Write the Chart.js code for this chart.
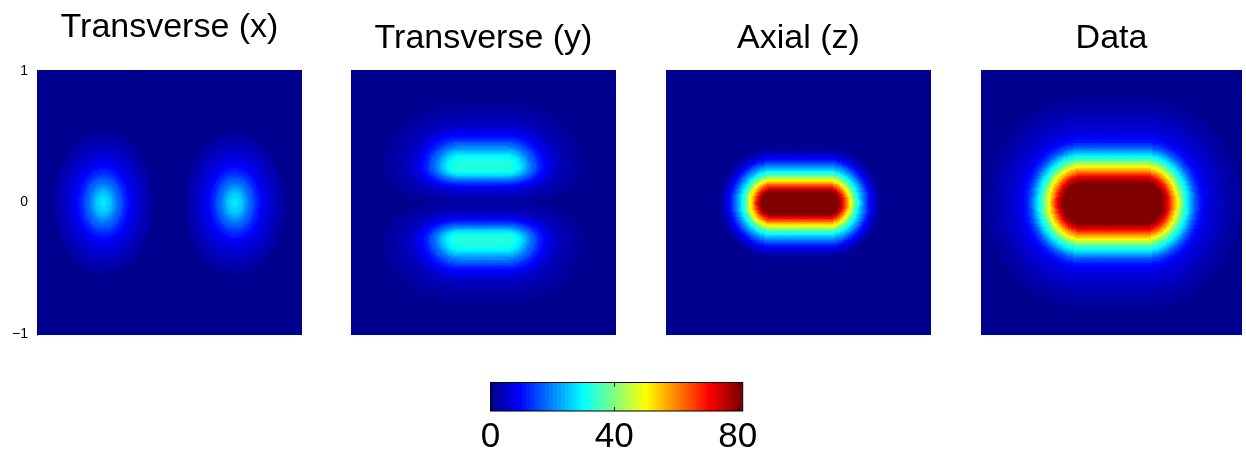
<!DOCTYPE html>
<html>
<head>
<meta charset="utf-8">
<title>Field components</title>
<script src="https://cdn.jsdelivr.net/npm/chart.js@4.4.1/dist/chart.umd.min.js"></script>
<style>
  html, body { margin: 0; padding: 0; background: #fff; }
  body { width: 1246px; height: 453px; position: relative; overflow: hidden; }
  canvas { position: absolute; top: 0; }
</style>
</head>
<body>
<canvas id="p0" width="312" height="345" style="left:0px"></canvas>
<canvas id="p1" width="285" height="345" style="left:341px"></canvas>
<canvas id="p2" width="285" height="345" style="left:656px"></canvas>
<canvas id="p3" width="275" height="345" style="left:971px"></canvas>
<canvas id="cbar" width="360" height="93" style="left:440px; top:360px"></canvas>
<script>
Chart.defaults.font.family = "'Liberation Sans', Arial, sans-serif";
Chart.defaults.color = '#000';

// Intensity profiles, sampled every 0.0125 going outward from each lobe's centre.
const profileStep = 0.0125;
const transXProfile = [28.5, 28.4, 28, 27.3, 26.5, 25.5, 24.5, 23.4, 22.2, 21.1, 20, 18.9, 17.8, 16.7, 15.6, 14.5, 13.5,
  12.6, 11.7, 10.8, 10, 9.3, 8.7, 8.1, 7.6, 7.1, 6.6, 6.1, 5.7, 5.3, 5.0, 4.6, 4.3, 3.8, 3.4, 3.0, 2.6, 2.2, 1.9, 1.5, 1.2,
  1.05, 0.9, 0.75, 0.6, 0.5];
const transYProfile = [33, 32.9, 32.6, 32.1, 31.3, 30.2, 28.8, 27.1, 25.2, 23.2, 21.1, 19.1, 17.2, 15.4, 13.7, 12.1, 10.7,
  9.4, 8.3, 7.3, 6.4, 5.7, 5, 4.5, 4, 3.6, 3.2, 2.9, 2.6, 2.3, 2, 1.8, 1.6, 1.4, 1.2, 1.05, 0.9];
const axialProfile = [100, 99.5, 98, 96, 93, 89.2, 85, 80.6, 76, 71.5, 67, 62.5, 58, 53.5, 49, 44.7, 40.5, 36.7, 33,
  29.7, 26.5, 23.4, 20.5, 17.9, 15.5, 13.2, 11, 9, 7.2, 5.7, 4.3, 3.2, 2.3, 1.6, 1.1, 0.8, 0.5];
const dataProfile = [100, 99.8, 99.4, 98.6, 97.5, 96.2, 94.8, 93, 91, 88.8, 86.5, 84, 81.5, 79.3, 77, 74.4, 71.5, 68.1,
  64.5, 60.8, 57.2, 53.6, 50, 46.5, 43, 39.8, 36.8, 33.8, 31, 28.5, 26, 23.5, 21, 18.7, 16.5, 14.6, 12.8, 11.4, 10.2, 9.2,
  8.4, 7.8, 7.3, 6.9, 6.6, 6.2, 5.8, 5.4, 5.1, 4.8, 4.5, 4.2, 3.9, 3.6, 3.3, 3.05, 2.8, 2.55, 2.3, 2.1, 1.9, 1.7, 1.55,
  1.4, 1.25, 1.1, 0.95];

// lobe centres (x, y)
const transXLobeX = [-0.5, 0.5];
const transXLobeY = [0, 0];
const transYLobeX = [0, 0];
const transYLobeY = [0.275, -0.275];
const axialLobeX = [0.015];
const axialLobeY = [0];
const dataLobeX = [0.015];
const dataLobeY = [0];

const panelTitles = ['Transverse (x)', 'Transverse (y)', 'Axial (z)', 'Data'];
const yTicks = [-1, 0, 1];
const colorbarTicks = [0, 40, 80];
const cMax = 81.6;

// grid of the image cells
const cellStep = 0.0125;
const cellCount = 80;

// 64-level jet colormap
const jet = [];
for (let i = 0; i < 64; i++) {
  const t = (i + 1) / 64;
  const ch = d => Math.round(255 * Math.min(1, Math.max(0, 1.5 - Math.abs(4 * t - d))));
  jet.push('rgb(' + ch(3) + ',' + ch(2) + ',' + ch(1) + ')');
}

function colorOf(v) {
  const i = Math.floor(v / cMax * 64);
  return jet[Math.min(63, Math.max(0, i))];
}

// distance of a cell from a lobe: lobes are stretched along x (halfLength, widthScale),
// along y (heightScale) and fall off faster on the side facing the x axis (innerScale)
function lobeDistance(x, y, lx, ly, p) {
  const dx = Math.max(Math.abs(x - lx) - p.halfLength, 0) / p.widthScale;
  let dy = (y - ly) / p.heightScale;
  if (ly !== 0 && Math.sign(dy) !== Math.sign(ly)) dy /= p.innerScale;
  return Math.hypot(dx, dy);
}

function buildCells(p) {
  const pts = [];
  const colors = [];
  for (let j = -cellCount; j <= cellCount; j++) {
    for (let i = -cellCount; i <= cellCount; i++) {
      const x = i * cellStep;
      const y = j * cellStep;
      let v = 0;
      p.lobeX.forEach((lx, k) => {
        const idx = Math.round(lobeDistance(x, y, lx, p.lobeY[k], p) / profileStep);
        if (idx < p.profile.length) v = Math.max(v, p.profile[idx]);
      });
      pts.push({ x, y });
      colors.push(colorOf(v));
    }
  }
  return { pts, colors };
}

// square cells, a little oversized so neighbours overlap without seams
function cellRadius(ctx) {
  const a = ctx.chart.chartArea;
  if (!a) return 2;
  const cell = (a.right - a.left) / (2 * cellCount + 1);
  return (cell / 2 + 0.45) / Math.SQRT1_2;
}

const panels = [
  { id: 'p0', profile: transXProfile, lobeX: transXLobeX, lobeY: transXLobeY,
    halfLength: 0, widthScale: 0.78, heightScale: 1.1, innerScale: 1,
    padL: 0, padR: 10, titlePad: { top: 7.6, bottom: 21.6 }, yAxis: true },
  { id: 'p1', profile: transYProfile, lobeX: transYLobeX, lobeY: transYLobeY,
    halfLength: 0.17, widthScale: 1.4, heightScale: 1.15, innerScale: 0.62,
    padL: 10, padR: 10, titlePad: { top: 18, bottom: 11.2 }, yAxis: false },
  { id: 'p2', profile: axialProfile, lobeX: axialLobeX, lobeY: axialLobeY,
    halfLength: 0.215, widthScale: 0.96, heightScale: 1, innerScale: 1,
    padL: 10, padR: 10, titlePad: { top: 18, bottom: 11.2 }, yAxis: false },
  { id: 'p3', profile: dataProfile, lobeX: dataLobeX, lobeY: dataLobeY,
    halfLength: 0.24, widthScale: 0.93, heightScale: 1, innerScale: 1,
    padL: 10, padR: 0, titlePad: { top: 18, bottom: 11.2 }, yAxis: false }
];

const lim = (cellCount + 0.5) * cellStep;

panels.forEach((p, k) => {
  const cells = buildCells(p);
  const yScale = {
    type: 'linear', min: -lim, max: lim, display: p.yAxis, z: 1,
    grid: { display: false, drawTicks: false },
    border: { display: true, color: '#777', width: 1 },
    ticks: {
      font: { size: 14 }, color: '#000', padding: 9,
      callback: v => (v < 0 ? '\u2212' + Math.abs(v) : String(v))
    },
    afterBuildTicks: s => { s.ticks = yTicks.map(v => ({ value: v })); }
  };
  if (p.yAxis) {
    yScale.afterFit = s => { s.width = 37; s.paddingTop = 0; s.paddingBottom = 0; };
  }

  new Chart(document.getElementById(p.id), {
    type: 'scatter',
    data: {
      datasets: [{
        data: cells.pts,
        parsing: false,
        normalized: true,
        pointStyle: 'rect',
        pointBackgroundColor: cells.colors,
        pointBorderWidth: 0,
        pointRadius: cellRadius,
        clip: 0
      }]
    },
    options: {
      responsive: false,
      animation: false,
      events: [],
      layout: { padding: { left: p.padL, right: p.padR, top: 0, bottom: 10 } },
      plugins: {
        legend: { display: false },
        tooltip: { enabled: false },
        title: {
          display: true, text: panelTitles[k], fullSize: false, color: '#000',
          font: { size: 34, weight: 'normal' }, padding: p.titlePad
        }
      },
      scales: {
        x: { type: 'linear', min: -lim, max: lim, display: false },
        y: yScale
      }
    }
  });
});

// frame and inner tick marks of the colorbar
const colorbarFrame = {
  id: 'colorbarFrame',
  afterDatasetsDraw(chart) {
    const { ctx, chartArea: a } = chart;
    const s = chart.scales.cv;
    ctx.save();
    ctx.strokeStyle = '#000';
    ctx.lineWidth = 1;
    ctx.beginPath();
    colorbarTicks.forEach(v => {
      const x = Math.round(s.getPixelForValue(v)) + 0.5;
      ctx.moveTo(x, a.top); ctx.lineTo(x, a.top + 4);
      ctx.moveTo(x, a.bottom); ctx.lineTo(x, a.bottom - 4);
    });
    ctx.stroke();
    ctx.strokeRect(a.left, a.top, a.right - a.left, a.bottom - a.top);
    ctx.restore();
  }
};

const bands = jet.map((c, i) => i);

new Chart(document.getElementById('cbar'), {
  type: 'bar',
  data: {
    labels: bands,
    datasets: [{
      data: bands.map(() => 1),
      backgroundColor: jet,
      borderWidth: 0,
      barPercentage: 1,
      categoryPercentage: 1
    }]
  },
  options: {
    responsive: false,
    animation: false,
    events: [],
    layout: { padding: { left: 50.5, right: 57.3, top: 22.5, bottom: 0 } },
    plugins: { legend: { display: false }, tooltip: { enabled: false } },
    scales: {
      x: { display: false },
      y: { display: false, min: 0, max: 1 },
      cv: {
        type: 'linear', position: 'bottom', min: 0, max: cMax, offset: false,
        grid: { display: false, drawTicks: false },
        border: { display: false },
        ticks: { font: { size: 35 }, color: '#000', padding: 5, maxRotation: 0, autoSkip: false },
        afterBuildTicks: s => { s.ticks = colorbarTicks.map(v => ({ value: v })); },
        afterFit: s => { s.height = 42; }
      }
    }
  },
  plugins: [colorbarFrame]
});
</script>
</body>
</html>
